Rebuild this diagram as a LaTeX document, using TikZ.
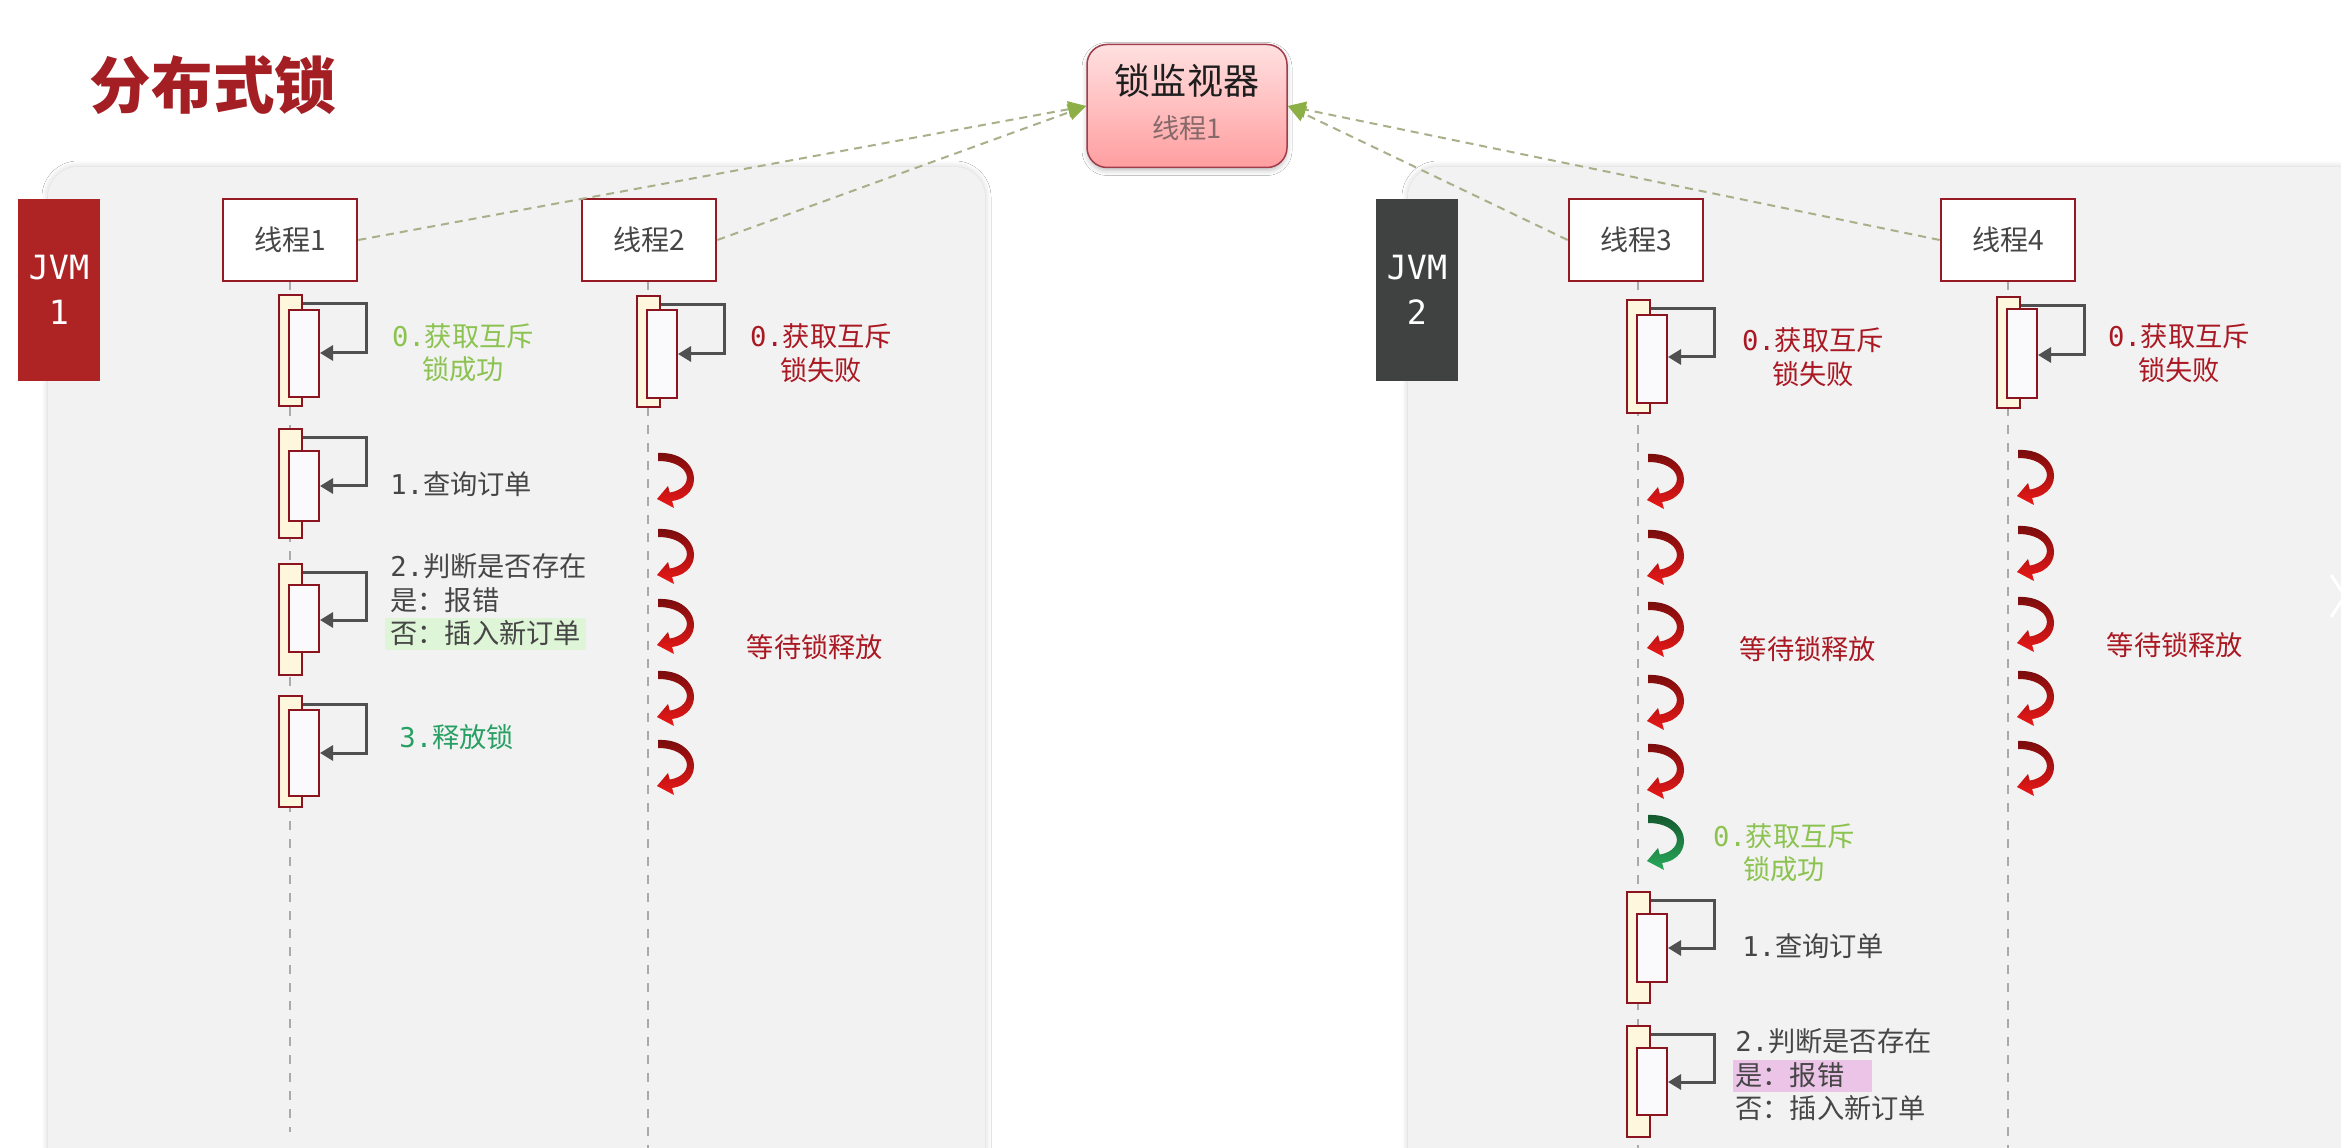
\documentclass[tikz,border=0pt]{standalone}
\usepackage{fontspec}
\setmainfont{Noto Sans CJK SC}
\newfontfamily\mono{DejaVu Sans Mono}
\usetikzlibrary{arrows.meta,shadows.blur}

\definecolor{titlered}{RGB}{163,31,36}
\definecolor{panelgrey}{RGB}{242,242,242}
\definecolor{jvmred}{RGB}{174,36,36}
\definecolor{jvmgrey}{RGB}{64,66,66}
\definecolor{boxred}{RGB}{150,25,35}
\definecolor{barred}{RGB}{140,20,30}
\definecolor{barfill}{RGB}{255,246,222}
\definecolor{innerfill}{RGB}{250,250,252}
\definecolor{loopgrey}{RGB}{80,80,80}
\definecolor{lifegrey}{RGB}{170,170,170}
\definecolor{dashcol}{RGB}{168,176,138}
\definecolor{tipgreen}{RGB}{140,175,70}
\definecolor{txtgrey}{RGB}{70,70,70}
\definecolor{okgreen}{RGB}{140,195,80}
\definecolor{relgreen}{RGB}{40,160,100}
\definecolor{failred}{RGB}{170,25,35}
\definecolor{hlgreen}{RGB}{222,245,215}
\definecolor{hlpink}{RGB}{236,196,232}
\definecolor{montext}{RGB}{30,30,30}
\definecolor{monsub}{RGB}{135,105,105}
\definecolor{monborder}{RGB}{160,60,75}
\definecolor{curlred}{RGB}{236,24,24}
\definecolor{curlgreen}{RGB}{40,170,90}

\newcommand{\mn}[1]{{\mono #1}}

% activation bar with its self call: name, lifeline x, outer top/bottom, inner top/bottom, arrow y
\newcommand{\actbar}[7]{%
  \node[outerbar,minimum height={(#4-#3)*0.2mm}] (#1o) at (#2+0.5,{(#3+#4)/2}) {};
  \node[innerbar,minimum height={(#6-#5)*0.2mm}] (#1i) at (#2+14,{(#5+#6)/2}) {};
  \draw[selfloop] (#1o.north east) ++(0,10) -| (#2+76,#7) -- (#2+30,#7);
}

% curled waiting arrow: lifeline x, centre y, colour
\newcommand{\waitcurl}[3]{%
  \shade[top color=#3!50!black,bottom color=#3,shift={(#1+10,#2)}]
    (0,-27) .. controls (42,-29) and (48,16) .. (14.1,21) -- (16,28) -- (-1,19)
    -- (10,6) -- (11.8,12.6) .. controls (38,8) and (34,-19) .. (0,-19) -- cycle;
}

\tikzset{
  title/.style={font=\fontsize{35}{40}\selectfont\bfseries,text=titlered,inner sep=0},
  panel/.style={fill=panelgrey,rounded corners=6mm,
    blur shadow={shadow xshift=0mm,shadow yshift=0mm,shadow blur radius=1.2mm,shadow opacity=20}},
  monitor/.style={rounded corners=4mm,top color={rgb,255:red,255;green,224;blue,224},
    bottom color={rgb,255:red,255;green,158;blue,160},draw=monborder,line width=0.3mm,
    minimum width=40mm,minimum height=24.6mm,
    blur shadow={shadow xshift=0mm,shadow yshift=-0.6mm,shadow blur radius=1mm,shadow opacity=25}},
  jvm/.style={minimum width=16.4mm,minimum height=36.4mm,text=white,align=center,inner sep=0,
    font=\mono\fontsize{19}{25.6}\selectfont},
  thread/.style={draw=boxred,line width=0.55mm,fill=white,minimum width=26.8mm,
    minimum height=16.4mm,text=txtgrey,font=\fontsize{16}{19}\selectfont},
  outerbar/.style={draw=barred,fill=barfill,line width=0.5mm,minimum width=4.6mm,inner sep=0},
  innerbar/.style={draw=barred,fill=innerfill,line width=0.5mm,minimum width=6mm,inner sep=0},
  selfloop/.style={draw=loopgrey,line width=0.6mm,-{Triangle[length=2.6mm,width=3mm]}},
  life/.style={draw=lifegrey,line width=0.3mm,dash pattern=on 1.8mm off 1.8mm},
  watch/.style={draw=dashcol,line width=0.4mm,dash pattern=on 1.6mm off 1.2mm,
    -{Triangle[length=3.6mm,width=3.2mm,color=tipgreen]}},
  note/.style={font=\fontsize{15.5}{19}\selectfont,inner sep=0}
}

\begin{document}
\begin{tikzpicture}[x=0.2mm,y=-0.2mm]
\useasboundingbox (0,0) rectangle (2341,1148);
\clip (0,0) rectangle (2341,1148);
\fill[white] (0,0) rectangle (2341,1148);

% two JVM panels
\path[panel] (48,167) rectangle (985,1220);
\path[panel] (1408,167) rectangle (2400,1220);

\node[title] (title) at (213,85) {分布式锁};

% lock monitor
\node[monitor] (mon) at (1187,106) {};
\node[font=\fontsize{20.5}{24}\selectfont,text=montext] (monname) at (1187,81) {锁监视器};
\node[font=\fontsize{15.5}{19}\selectfont,text=monsub] (monthr) at (1187,128) {线程1};

\node[jvm,fill=jvmred] (jvm1) at (59,290) {JVM\\1};
\node[jvm,fill=jvmgrey] (jvm2) at (1417,290) {JVM\\2};

% threads and lifelines
\coordinate (t1end) at (290,1132);
\coordinate (t2end) at (648,1160);
\coordinate (t3end) at (1638,1160);
\coordinate (t4end) at (2008,1160);
\draw[life] (290,281) -- (t1end);
\draw[life] (648,281) -- (t2end);
\draw[life] (1638,281) -- (t3end);
\draw[life] (2008,281) -- (t4end);

\node[thread] (t1) at (290,240) {线程1};
\node[thread] (t2) at (649,240) {线程2};
\node[thread] (t3) at (1636,240) {线程3};
\node[thread] (t4) at (2008,240) {线程4};

\draw[watch] (t1.east) -- (mon.west);
\draw[watch] (t2.east) -- (mon.west);
\draw[watch] (t3.west) -- (mon.east);
\draw[watch] (t4.west) -- (mon.east);

% JVM 1
\actbar{t1a}{290}{295}{406}{310}{397}{353}
\actbar{t1b}{290}{429}{538}{451}{521}{486}
\actbar{t1c}{290}{564}{675}{585}{652}{620}
\actbar{t1d}{290}{696}{807}{710}{796}{753}
\actbar{t2a}{648}{296}{407}{310}{398}{354}

\node[note,text=okgreen,align=center] (n1a) at (463,353) {\mn{0.}获取互斥\\锁成功};
\node[note,text=txtgrey,anchor=west] (n1b) at (390,484) {\mn{1.}查询订单};
\fill[hlgreen] (385,618) rectangle (586,650);
\node[note,text=txtgrey,anchor=west,align=left] (n1c) at (390,600) {\mn{2.}判断是否存在\\是：报错\\否：插入新订单};
\node[note,text=relgreen,anchor=west] (n1d) at (399,737) {\mn{3.}释放锁};

\node[note,text=failred,align=center] (n2a) at (821,353) {\mn{0.}获取互斥\\锁失败};
\node[note,text=failred] (n2b) at (815,647) {等待锁释放};
\waitcurl{648}{480}{curlred}
\waitcurl{648}{556}{curlred}
\waitcurl{648}{626}{curlred}
\waitcurl{648}{698}{curlred}
\waitcurl{648}{767}{curlred}

% JVM 2
\actbar{t3a}{1638}{300}{413}{315}{403}{357}
\actbar{t3b}{1638}{892}{1003}{914}{982}{948}
\actbar{t3c}{1638}{1026}{1137}{1048}{1115}{1082}
\actbar{t4a}{2008}{297}{408}{309}{398}{355}

\node[note,text=failred,align=center] (n3a) at (1813,357) {\mn{0.}获取互斥\\锁失败};
\node[note,text=failred] (n3b) at (1808,649) {等待锁释放};
\waitcurl{1638}{481}{curlred}
\waitcurl{1638}{557}{curlred}
\waitcurl{1638}{629}{curlred}
\waitcurl{1638}{702}{curlred}
\waitcurl{1638}{771}{curlred}
\waitcurl{1638}{842}{curlgreen}
\node[note,text=okgreen,align=center] (n3c) at (1784,853) {\mn{0.}获取互斥\\锁成功};
\node[note,text=txtgrey,anchor=west] (n3d) at (1742,946) {\mn{1.}查询订单};
\fill[hlpink] (1733,1060) rectangle (1872,1092);
\node[note,text=txtgrey,anchor=west,align=left] (n3e) at (1735,1075) {\mn{2.}判断是否存在\\是：报错\\否：插入新订单};

\node[note,text=failred,align=center] (n4a) at (2179,353) {\mn{0.}获取互斥\\锁失败};
\node[note,text=failred] (n4b) at (2175,645) {等待锁释放};
\waitcurl{2008}{477}{curlred}
\waitcurl{2008}{553}{curlred}
\waitcurl{2008}{624}{curlred}
\waitcurl{2008}{698}{curlred}
\waitcurl{2008}{768}{curlred}

\draw[white,line width=0.6mm] (2331,575) -- (2345,596) -- (2331,617);
\end{tikzpicture}
\end{document}
